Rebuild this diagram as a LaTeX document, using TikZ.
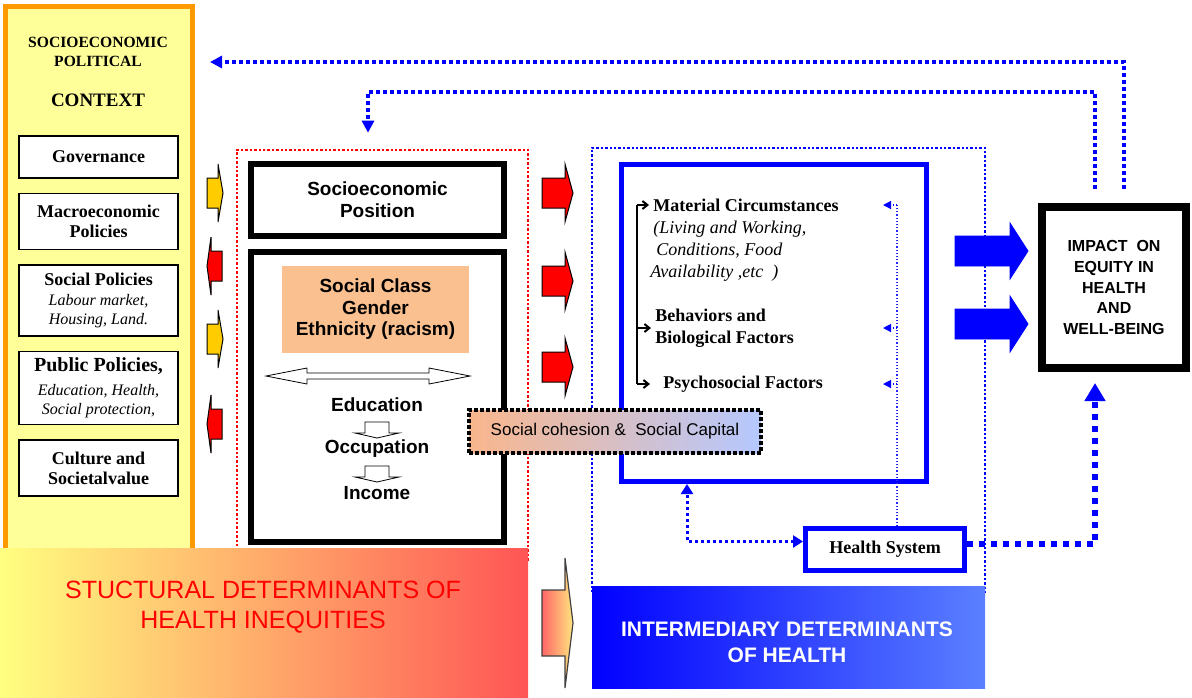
\documentclass[tikz,border=0pt]{standalone}
\usepackage{fontspec}
\setmainfont{Liberation Serif}
\setsansfont{Liberation Sans}
\usetikzlibrary{positioning, fit, arrows.meta, calc}
\definecolor{ctxborder}{HTML}{FF9900}
\definecolor{ctxfill}{HTML}{FFFF99}
\definecolor{ctxarrow}{HTML}{FFCC00}
\definecolor{structred}{HTML}{FF0000}
\definecolor{classfill}{HTML}{FAC090}
\definecolor{interblue}{HTML}{0000FF}
\definecolor{interlight}{HTML}{5B80FF}
\definecolor{barleft}{HTML}{FFFF80}
\definecolor{barmid}{HTML}{FFC870}
\definecolor{barright}{HTML}{FF5555}
\definecolor{cohleft}{HTML}{F9B68C}
\definecolor{cohmid}{HTML}{E2C0C8}
\definecolor{cohright}{HTML}{B5C8FF}
\tikzset{
    ctxpanel/.style={
        draw=ctxborder, fill=ctxfill, line width=2.5pt,
    },
    ctxtitle/.style={
        align=center, inner sep=0pt, font=\fontsize{7.8}{9.5}\selectfont\bfseries,
    },
    ctxbox/.style={
        draw=black, fill=white, line width=0.75pt,
        minimum width=79.5pt, align=center, inner sep=1pt,
        font=\fontsize{9}{10}\selectfont\bfseries,
    },
    heavybox/.style={
        draw=black, fill=white, line width=3pt, minimum width=126.5pt,
        align=center, font=\sffamily\bfseries\fontsize{9.5}{11}\selectfont,
    },
    classes/.style={
        fill=classfill, minimum width=93.5pt, minimum height=43.5pt,
        align=center, font=\sffamily\bfseries\fontsize{9.5}{10.75}\selectfont,
    },
    ladder/.style={
        inner sep=0pt, font=\sffamily\bfseries\fontsize{9.5}{11}\selectfont,
    },
    factor/.style={
        anchor=west, align=left, inner sep=2pt,
        font=\fontsize{9}{11}\selectfont\bfseries,
    },
    reddots/.style={
        draw=structred, line width=1.3pt, dash pattern=on 1.2pt off 1pt, inner sep=0pt,
    },
    bluedots/.style={
        draw=interblue, line width=1.3pt, dash pattern=on 1.2pt off 1pt, inner sep=0pt,
    },
    sidearrow/.style={
        draw=black, line width=0.5pt, fill=#1,
    },
    hollow/.style={
        draw=black, line width=0.4pt, fill=white,
    },
    spine/.style={
        draw=black, line width=1pt, -{Straight Barb[length=2.5pt,width=4pt]},
    },
    feedback/.style={
        draw=interblue, line width=1.75pt, dash pattern=on 2pt off 1.5pt,
        -{Triangle[length=6pt,width=6pt]},
    },
    heavyfeed/.style={
        draw=interblue, line width=3pt, dash pattern=on 3pt off 3pt,
        -{Triangle[length=9pt,width=10pt]},
    },
    carefeed/.style={
        draw=interblue, line width=1.5pt, dash pattern=on 1.5pt off 1.5pt,
        {Triangle[length=5pt,width=6pt]}-{Triangle[length=5pt,width=6pt]},
    },
    thinfeed/.style={
        draw=interblue!85, line width=0.6pt, densely dotted,
    },
    tinyhead/.style={
        draw=interblue, line width=0.6pt, densely dotted,
        -{Triangle[length=4pt,width=4pt]},
    },
    pics/blockarrow/.style args={#1/#2/#3/#4}{code={
        \path[pic actions] (0,-#3) -- (#1,-#3) -- (#1,-#4) -- ({#1+#2},0)
            -- (#1,#4) -- (#1,#3) -- (0,#3) -- cycle;
    }},
}

\begin{document}
\begin{tikzpicture}[x=0.5pt, y=-0.5pt]
\useasboundingbox (0,0) rectangle (1192,697);

% ── Socioeconomic and political context ──────────────────────
\node[ctxpanel, minimum width=93.5pt, minimum height=277pt] (ctx) at (99,283) {};
\node[ctxtitle] (ctxtitle) at (98,52) {SOCIOECONOMIC\\POLITICAL};
\node[ctxtitle, font=\fontsize{9.5}{11}\selectfont\bfseries] (ctxhead) at (98,100) {CONTEXT};

\node[ctxbox, minimum height=21pt] (gov) at (98.5,157) {Governance};
\node[ctxbox, minimum height=28pt, below=7pt of gov] (macro) {Macroeconomic\\Policies};
\node[ctxbox, minimum height=35.5pt, below=7pt of macro, font=\fontsize{8}{9.75}\selectfont\itshape] (socpol)
    {{\fontsize{9}{9.75}\selectfont\bfseries\upshape Social Policies}\\Labour market,\\Housing, Land.};
\node[ctxbox, minimum height=36.5pt, below=7pt of socpol, font=\fontsize{8}{9.5}\selectfont\itshape] (pubpol)
    {{\fontsize{10}{9.5}\selectfont\bfseries\upshape Public Policies,}\\[2.5pt]Education, Health,\\Social protection,};
\node[ctxbox, minimum height=28pt, below=7pt of pubpol] (culture) {Culture and\\Societalvalue};

% ── Structural determinants (red dotted frame) ───────────────
\node[reddots, fit={(237,150) (528,560)}] (structural) {};
\node[heavybox, minimum height=36pt] (sep) at (377.5,200) {Socioeconomic\\Position};
\node[heavybox, minimum height=145pt] (classbox) at (377.5,397) {};
\node[classes] (classes) at (375.5,309.5) {Social Class\\Gender\\Ethnicity (racism)};
\draw[hollow] (266,376) -- (307,368) -- (307,373) -- (429,373) -- (429,368) -- (470,376)
    -- (429,384) -- (429,379) -- (307,379) -- (307,384) -- cycle;
\node[ladder] (edu) at (377,405) {Education};
\node[ladder] (occ) at (377,449) {Occupation};
\node[ladder] (inc) at (377,493) {Income};
\pic[hollow, rotate=-90] (ladderA) at (377,422) {blockarrow=11/5/12/22};
\pic[hollow, rotate=-90] (ladderB) at (377,466) {blockarrow=11/5/12/22};

% context <-> structural
\pic[sidearrow=ctxarrow] (inA) at (207,193) {blockarrow=11/5/15/29};
\pic[sidearrow=structred, rotate=180] (outA) at (222,266) {blockarrow=11/4/15/29};
\pic[sidearrow=ctxarrow] (inB) at (207,339) {blockarrow=11/5/15/29};
\pic[sidearrow=structred, rotate=180] (outB) at (222,424) {blockarrow=11/4/15/29};

% structural -> intermediary
\foreach \y/\nm in {193/fwdA, 281/fwdB, 367/fwdC}
    \pic[sidearrow=structred] (\nm) at (542,\y) {blockarrow=23/8/15/29};

% ── Intermediary determinants (blue dotted frame) ────────────
\node[bluedots, fit={(592,148) (985,592)}] (intermediary) {};
\node[draw=interblue, line width=2.5pt, minimum width=152.5pt, minimum height=158.5pt] (circbox) at (774,323) {};

\node[factor] (matcirc) at (649,205) {Material Circumstances};
\node[factor, font=\fontsize{9}{11}\selectfont\itshape, anchor=north west] (matdetail) at (646,217)
    {\,(Living and Working,\\\,\,Conditions, Food\\Availability ,etc~~)};
\node[factor] (behav) at (651,328) {Behaviors and\\Biological Factors};
\node[factor] (psycho) at (659,384) {Psychosocial Factors};

\coordinate (spinetop) at (637,205);
\draw[spine, -] (spinetop) -- (spinetop |- psycho.west);
\draw[spine] (spinetop) -- (matcirc.west);
\draw[spine] (spinetop |- behav.west) -- (behav.west);
\draw[spine] (spinetop |- psycho.west) -- ([xshift=-4.5pt]psycho.west);

% social cohesion sits on top of both frames
\node[draw=black, line width=2pt, dash pattern=on 2pt off 1pt,
      left color=cohleft, middle color=cohmid, right color=cohright,
      minimum width=146pt, minimum height=21.5pt,
      font=\sffamily\fontsize{8.5}{10}\selectfont] (cohesion) at (615,431.5)
    {Social cohesion \&~~Social Capital};

\node[draw=interblue, line width=2.5pt, fill=white, minimum width=79.5pt, minimum height=21pt,
      font=\fontsize{9}{11}\selectfont\bfseries] (hsys) at (885,549.5) {Health System};

% health system feedback into the factors
\coordinate (carex) at (897,205);
\draw[thinfeed] (carex |- hsys.north) -- (carex);
\foreach \f in {matcirc, behav, psycho}
    \draw[tinyhead] (carex |- \f.west) -- ($(carex |- \f.west)+(-14,0)$);
\draw[carefeed] ([yshift=4pt]hsys.west) -| (circbox.south -| 687,0);

% ── Impact ───────────────────────────────────────────────────
\node[draw=black, line width=4pt, minimum width=72pt, minimum height=80.5pt, align=center,
      font=\sffamily\bfseries\fontsize{8}{10.4}\selectfont] (impact) at (1114,287.5)
    {IMPACT~~ON\\EQUITY IN\\HEALTH\\AND\\WELL-BEING};
\pic[draw=interblue, fill=interblue] (toimpA) at (955,251) {blockarrow=55/18/15/28};
\pic[draw=interblue, fill=interblue] (toimpB) at (955,324) {blockarrow=55/18/15/28};
\draw[heavyfeed, shorten >=5.5pt] ([yshift=3pt]hsys.east) -| ([xshift=-9.5pt]impact.south);

% feedback to context and to structural
\coordinate (fbouter) at (1124,62);
\coordinate (fbinner) at (1095,92);
\coordinate (fbdrop) at (368,92);
\draw[feedback, shorten <=7pt, shorten >=7.5pt] (impact.north -| fbouter) -- (fbouter) -- (fbouter -| ctx.east);
\draw[feedback, shorten <=7pt, shorten >=8pt] (impact.north -| fbinner) -- (fbinner) -- (fbdrop) -- (fbdrop |- structural.north);

% ── Bottom banners ───────────────────────────────────────────
\node[left color=barleft, middle color=barmid, right color=barright,
      minimum width=264pt, minimum height=74.5pt, inner sep=0pt] (structbar) at (264,622.5) {};
\node[align=center, text=structred, font=\sffamily\fontsize{12.5}{15}\selectfont] (structlabel) at (263,607)
    {STUCTURAL DETERMINANTS OF\\HEALTH INEQUITIES};
\node[left color=interblue, right color=interlight,
      minimum width=196.5pt, minimum height=51pt, inner sep=0pt] (interbar) at (788.5,637) {};
\node[align=center, text=white, font=\sffamily\bfseries\fontsize{10.5}{13}\selectfont] (interlabel) at (787,642)
    {INTERMEDIARY DETERMINANTS\\OF HEALTH};
\pic[draw=black!75, line width=0.6pt, left color=red!60, right color=ctxarrow!50] (handover) at (542,623) {blockarrow=23/8/33/65};

\end{tikzpicture}
\end{document}
